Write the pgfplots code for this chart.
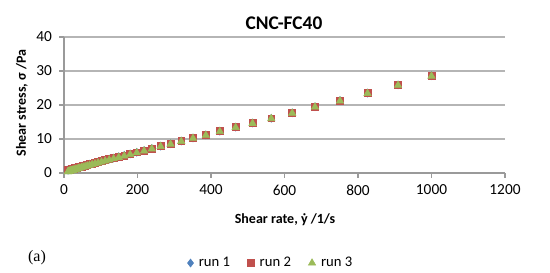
\documentclass[border=0pt]{standalone}
\usepackage{pgfplots}
\pgfplotsset{compat=1.18}
\usepackage{pgfplotstable}
\usepackage{fontspec}
\setmainfont{Carlito}
\newfontfamily\seriffont{Liberation Serif}
\definecolor{c1}{HTML}{4F81BD}
\definecolor{c2}{HTML}{C0504D}
\definecolor{c3}{HTML}{9BBB59}
\definecolor{gridc}{HTML}{B5B5B5}
\definecolor{axc}{HTML}{9A9A9A}
\pgfplotstableread{
x y1 y2 y3
1000 28.6 28.6 28.5
909 25.9 25.9 25.8
826 23.5 23.5 23.4
751 21.3 21.3 21.2
683 19.5 19.5 19.4
621 17.7 17.7 17.6
564 16.1 16.1 16.0
513 14.7 14.7 14.6
467 13.5 13.5 13.4
424 12.3 12.3 12.2
386 11.2 11.2 11.1
351 10.3 10.3 10.2
319 9.4 9.4 9.3
290 8.6 8.6 8.5
263 7.9 7.9 7.8
239 7.2 7.2 7.1
218 6.6 6.6 6.5
198 6.1 6.1 5.95
180 5.6 5.6 5.45
164 5.2 5.2 5.0
149 4.8 4.8 4.6
135 4.4 4.4 4.2
123 4.1 4.1 3.85
112 3.8 3.8 3.55
102 3.5 3.5 3.25
92.6 3.25 3.25 2.97
84.2 3.0 3.0 2.72
76.5 2.8 2.8 2.5
69.6 2.6 2.6 2.28
63.2 2.4 2.4 2.08
57.5 2.25 2.25 1.9
52.3 2.1 2.1 1.74
47.5 1.95 1.95 1.59
43.2 1.82 1.82 1.45
39.3 1.7 1.7 1.33
35.7 1.6 1.6 1.21
32.4 1.5 1.5 1.1
29.5 1.42 1.42 1.0
26.8 1.34 1.34 0.92
24.4 1.27 1.27 0.84
22.2 1.2 1.2 0.77
20.1 1.14 1.14 0.7
18.3 1.09 1.09 0.64
16.7 1.04 1.04 0.58
15.1 1.0 1.0 0.53
13.8 0.96 0.96 0.48
12.5 0.93 0.93 0.44
11.4 0.9 0.9 0.4
10.4 0.87 0.87 0.36
}\datatable
\begin{document}
\begin{tikzpicture}
\path[use as bounding box] (0pt,0pt) rectangle (412.5pt,204pt);
\begin{axis}[
  at={(48pt,74.25pt)}, anchor=south west,
  scale only axis, width=330.75pt, height=102pt,
  xmin=0, xmax=1200, ymin=0, ymax=40,
  xtick={0,200,...,1200}, ytick={0,10,...,40},
  axis lines*=left,
  axis line style={axc, line width=0.8pt},
  tick align=outside, major tick length=3.5pt,
  tick style={axc, line width=0.8pt},
  ymajorgrids, grid style={gridc, line width=0.8pt},
  /pgf/number format/assume math mode=true,
  /pgf/number format/1000 sep={},
  tick label style={font=\fontsize{11.5}{13}\selectfont, text=black},
  xticklabel style={yshift=-2pt},
  yticklabel style={xshift=-2pt},
  legend style={at={(0.47,-0.662)}, anchor=center, draw=none, fill=none,
    legend columns=3, font=\fontsize{11}{13}\selectfont,
    /tikz/every odd column/.append style={column sep=2pt},
    /tikz/every even column/.append style={column sep=11pt}},
  legend image code/.code={\draw[#1] plot coordinates {(0cm,0cm)};},
]
\addplot[only marks, mark=diamond*, mark size=3pt, color=c1] table[x=x,y=y1] {\datatable};
\addlegendentry{run 1}
\addplot[only marks, mark=square*, mark size=2.6pt, color=c2] table[x=x,y=y2] {\datatable};
\addlegendentry{run 2}
\addplot[only marks, mark=triangle*, mark size=3.2pt, color=c3] table[x=x,y=y3] {\datatable};
\addlegendentry{run 3}
\end{axis}
\node[font=\fontsize{14.5}{16}\selectfont\bfseries] at (213pt,186.75pt) {CNC-FC40};
\node[font=\fontsize{10.5}{12}\selectfont\bfseries] at (213.75pt,39pt) {Shear rate, ẏ /1/s};
\node[font=\fontsize{10.5}{12}\selectfont\bfseries, rotate=90] at (16.5pt,126.75pt) {Shear stress, σ /Pa};
\node[font=\seriffont\fontsize{12}{14}\selectfont] at (27.75pt,10.5pt) {(a)};
\end{tikzpicture}
\end{document}
